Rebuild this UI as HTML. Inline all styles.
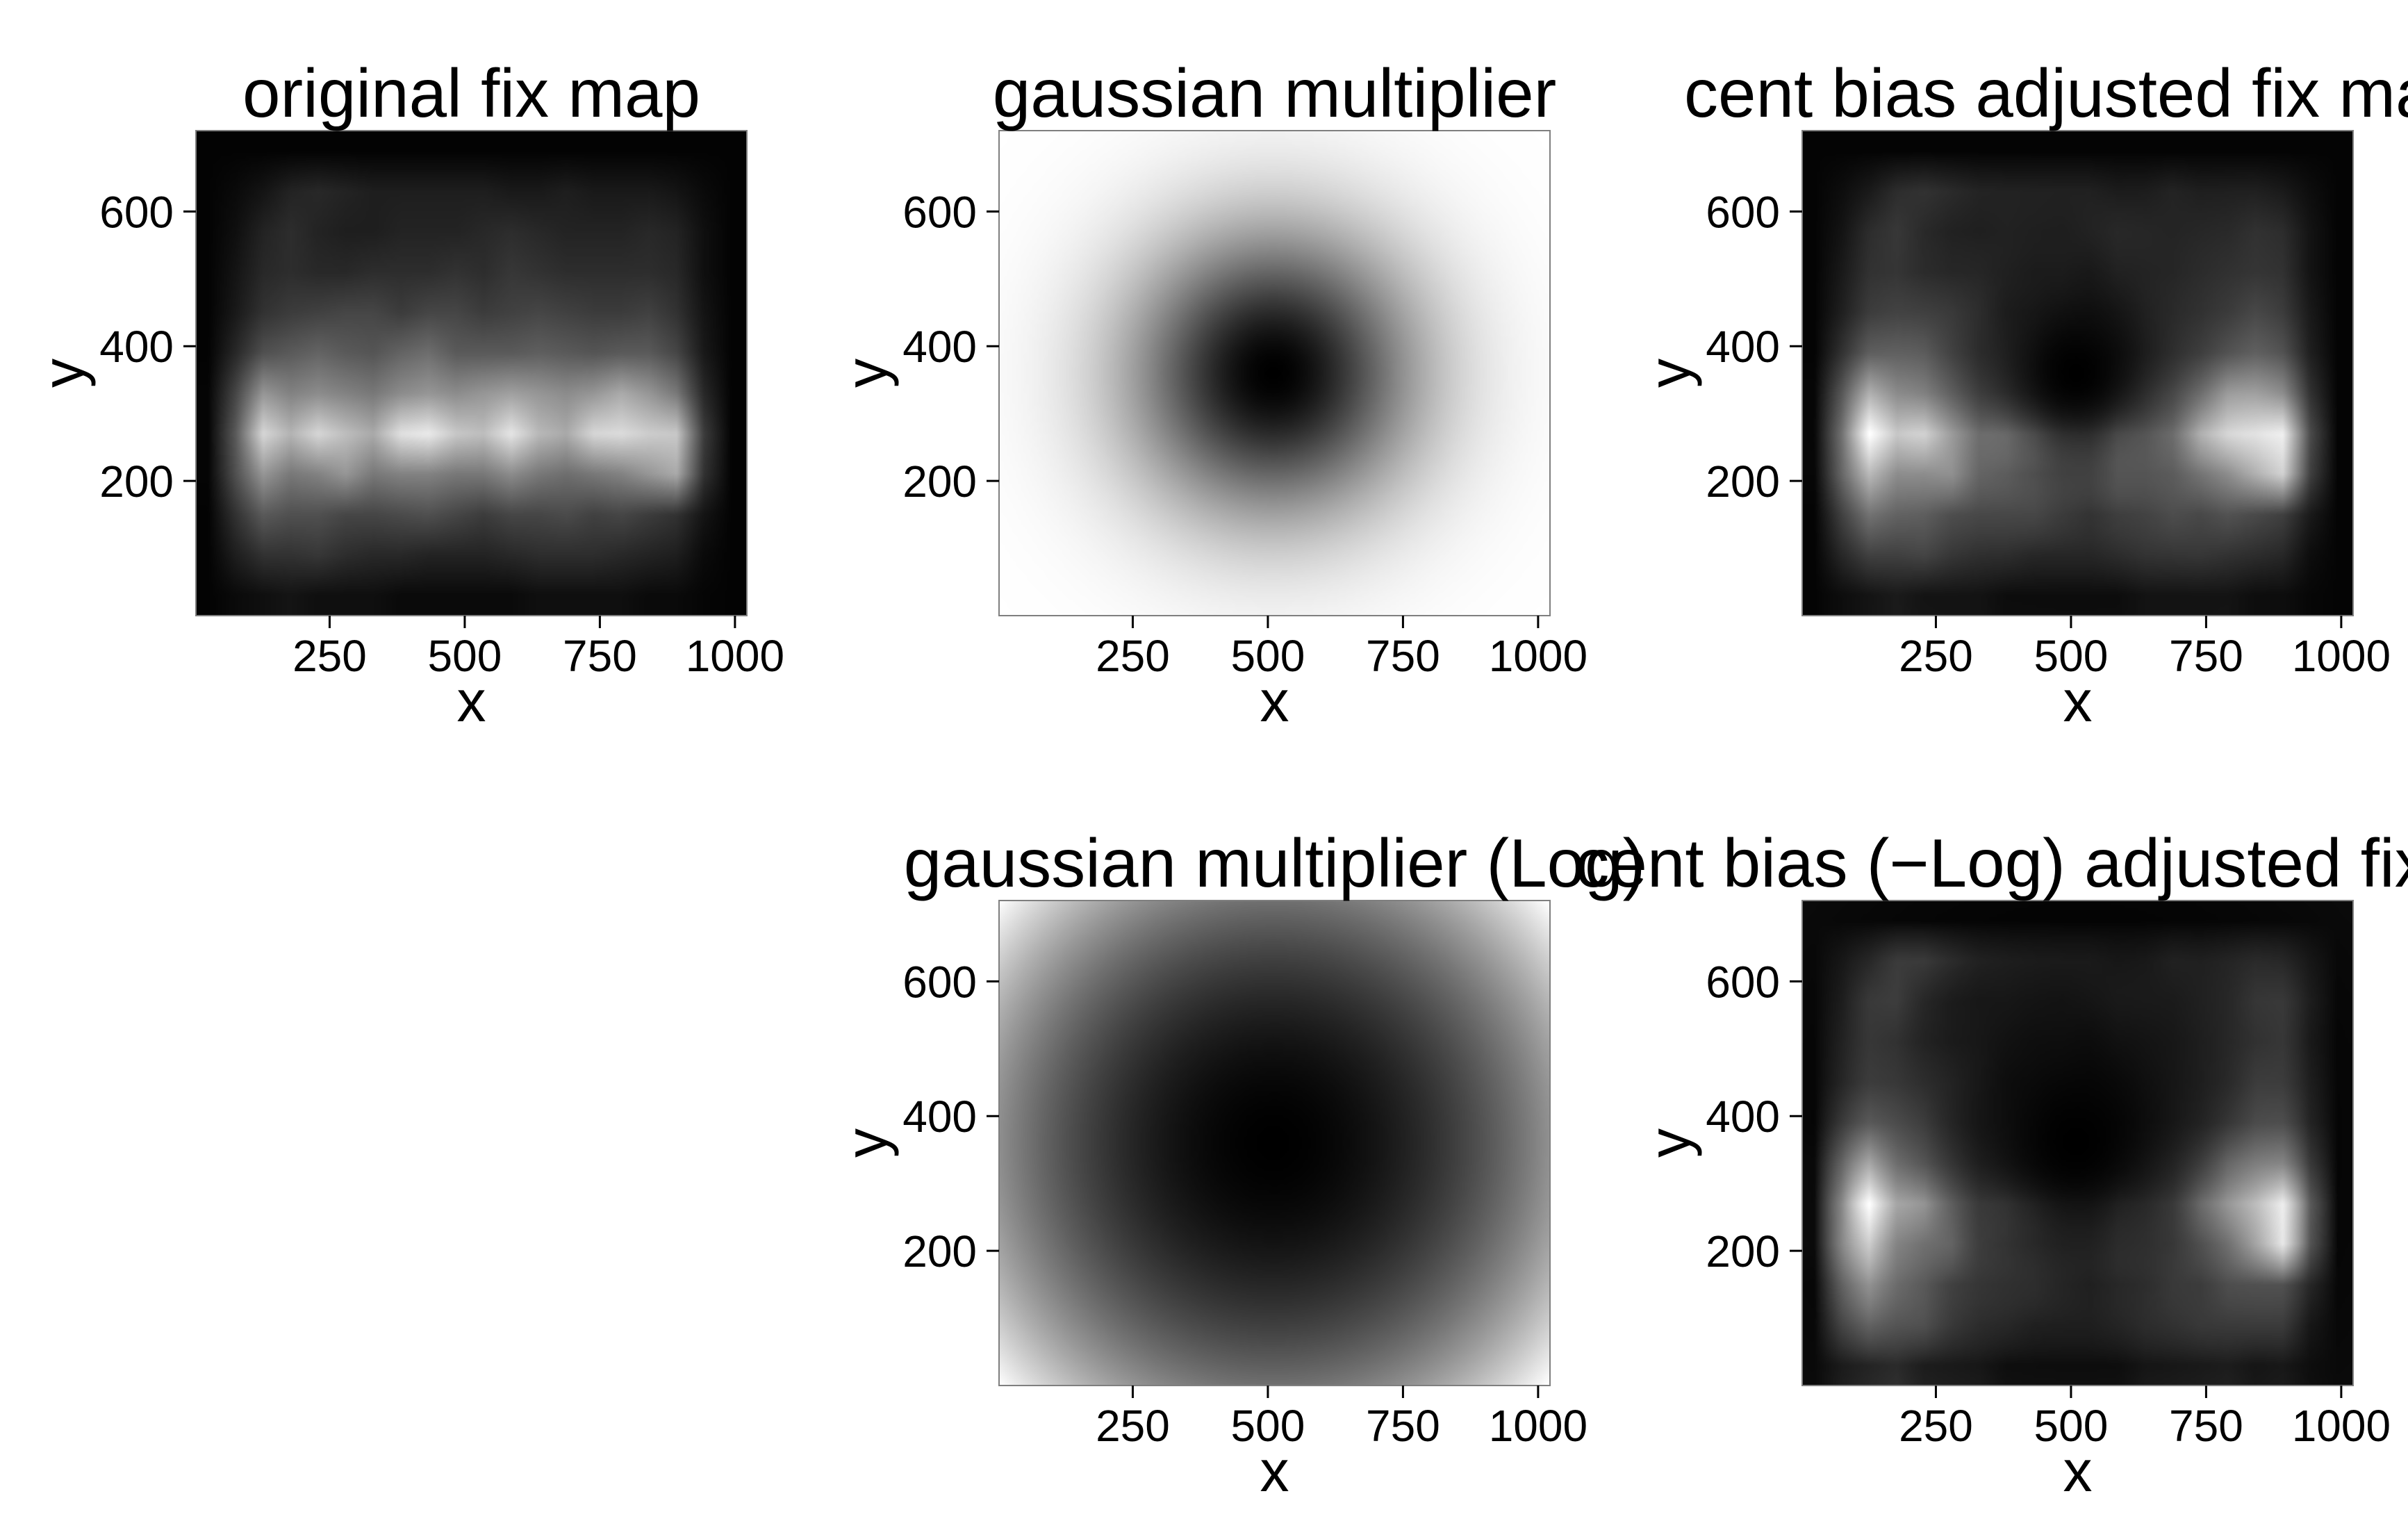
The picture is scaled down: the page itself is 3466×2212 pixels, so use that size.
<!DOCTYPE html>
<html><head><meta charset="utf-8">
<style>
html,body{margin:0;padding:0;background:#fff;}
#wrap{position:relative;width:3466px;height:2212px;overflow:hidden;background:#fff;}
canvas{position:absolute;}
svg{position:absolute;left:0;top:0;}
text{font-family:"Liberation Sans",Arial,sans-serif;fill:#000;}
</style></head>
<body>
<div id="wrap">
<svg id="svg" width="3466" height="2212"></svg>
</div>
<script>
// ---- data ----
const xTicks = [250, 500, 750, 1000];
const yTicks = [200, 400, 600];
const xDomain = [2.6, 1022];
const yDomain = [0, 720];
// fixation map intensity grid (rows top y=690 -> bottom y=30, 20 cols across x)
const fixRowY = [690,630,570,510,450,390,330,270,210,150,90,30];
const fixColX = [25,76,127,178,229,280,331,382,433,484,535,586,637,688,739,790,841,892,943,994];
const fixGrid = [
[3,3,3,3,3,3,3,3,3,3,3,3,3,3,3,3,3,3,3,3],
[3,10,20,35,40,35,30,30,30,30,30,25,25,30,25,25,25,20,10,3],
[3,15,35,45,35,30,30,35,35,35,40,45,40,35,35,35,40,35,15,3],
[3,20,40,45,40,40,45,45,45,50,45,55,50,45,45,45,45,40,15,3],
[3,25,50,60,65,70,70,60,70,70,60,65,70,65,60,60,65,50,20,3],
[3,40,80,90,100,90,85,100,110,90,90,90,95,90,85,90,90,70,25,3],
[5,70,150,130,140,130,120,140,150,140,150,160,150,140,150,170,150,120,40,3],
[5,90,215,180,215,190,170,225,235,200,190,230,185,170,215,220,205,200,60,3],
[5,80,150,120,130,150,120,130,130,120,120,140,120,110,120,130,150,170,50,3],
[3,50,90,80,80,70,70,75,80,70,60,70,70,75,65,70,60,50,20,3],
[3,30,50,50,55,45,40,40,35,35,35,40,45,45,45,40,35,30,10,3],
[3,10,15,20,15,15,15,10,10,10,10,10,15,15,15,15,10,10,5,3]
];
// gaussian centre-bias parameters
const gaussCenter = [510, 360];
const gaussSigma = [185, 148];

const titles = ["original fix map","gaussian multiplier","cent bias adjusted fix map","gaussian multiplier (Log)","cent bias (\u2212Log) adjusted fix map"];
const panelKinds = ["fix","gauss","adj","glog","adjlog"];
const panelCol = [0,1,2,1,2];
const panelRow = [0,0,0,1,1];

// ---- layout ----
const PL=282, PT=188, PW=793, PH=698, DX=1156, DY=1108;
const NS="http://www.w3.org/2000/svg";
const svg=document.getElementById('svg');
const wrap=document.getElementById('wrap');
function el(tag,attrs,parent){const e=document.createElementNS(NS,tag);for(const k in attrs)e.setAttribute(k,attrs[k]);(parent||svg).appendChild(e);return e;}

function sampleFix(x,y){
  let fx=(x-fixColX[0])/(fixColX[1]-fixColX[0]);
  let fy=(fixRowY[0]-y)/(fixRowY[0]-fixRowY[1]);
  fx=Math.max(0,Math.min(fixColX.length-1.0001,fx));
  fy=Math.max(0,Math.min(fixRowY.length-1.0001,fy));
  const i=Math.floor(fx),j=Math.floor(fy),a=fx-i,b=fy-j;
  const g=fixGrid;
  return (g[j][i]*(1-a)+g[j][i+1]*a)*(1-b)+(g[j+1][i]*(1-a)+g[j+1][i+1]*a)*b;
}
function neglog(x,y){const dx=(x-gaussCenter[0])/gaussSigma[0],dy=(y-gaussCenter[1])/gaussSigma[1];return (dx*dx+dy*dy)/2;}
function gauss(x,y){return Math.exp(-neglog(x,y));}

function valueFor(kind,x,y){
  if(kind==="fix")return sampleFix(x,y)/255;
  if(kind==="gauss")return 1-gauss(x,y);
  if(kind==="adj")return sampleFix(x,y)*(1-gauss(x,y));
  if(kind==="glog")return neglog(x,y);
  return sampleFix(x,y)*neglog(x,y);
}

for(let p=0;p<titles.length;p++){
  const ox=PL+panelCol[p]*DX, oy=PT+panelRow[p]*DY;
  const xs=v=>ox+(v-xDomain[0])/(xDomain[1]-xDomain[0])*PW;
  const ys=v=>oy+PH-(v-yDomain[0])/(yDomain[1]-yDomain[0])*PH;
  const g=el('g',{});
  
  
  const cw=200,ch=176;
  const c=document.createElement('canvas');c.width=cw;c.height=ch;
  const full=document.createElement('canvas');full.width=PW;full.height=PH;
  full.style.left=ox+'px';full.style.top=oy+'px';
  
  
  const ctx=c.getContext('2d');const img=ctx.createImageData(cw,ch);
  const vals=[];let mx=0;
  for(let j=0;j<ch;j++)for(let i=0;i<cw;i++){
    const x=xDomain[0]+(i+0.5)/cw*(xDomain[1]-xDomain[0]);
    const y=yDomain[1]-(j+0.5)/ch*(yDomain[1]-yDomain[0]);
    const v=valueFor(panelKinds[p],x,y);vals.push(v);if(v>mx)mx=v;
  }
  for(let k=0;k<vals.length;k++){
    let v=vals[k];
    if(panelKinds[p]!=="fix"&&panelKinds[p]!=="gauss")v=v/mx;
    const c8=Math.max(0,Math.min(255,Math.round(v*255)));
    img.data[4*k]=c8;img.data[4*k+1]=c8;img.data[4*k+2]=c8;img.data[4*k+3]=255;
  }
  ctx.putImageData(img,0,0);
  const fctx=full.getContext('2d');fctx.imageSmoothingEnabled=true;fctx.imageSmoothingQuality='high';
  fctx.drawImage(c,0,0,PW,PH);
  wrap.insertBefore(full,svg);
  const r=el('rect',{x:ox,y:oy,width:PW,height:PH,fill:'none',stroke:'#7f7f7f','stroke-width':2},g);
  
  const t=el('text',{x:ox+PW/2,y:oy-20,'font-size':98,'text-anchor':'middle'},g);t.textContent=titles[p];
  
  xTicks.forEach(v=>{
    const X=xs(v);
    const l=el('line',{x1:X,x2:X,y1:oy+PH,y2:oy+PH+18,stroke:'#000','stroke-width':3},g);
    
    const tx=el('text',{x:X,y:oy+PH+80,'font-size':64,'text-anchor':'middle'},g);tx.textContent=v;
    
  });
  yTicks.forEach(v=>{
    const Y=ys(v);
    const l=el('line',{x1:ox-18,x2:ox,y1:Y,y2:Y,stroke:'#000','stroke-width':3},g);
    
    const tx=el('text',{x:ox-32,y:Y+23,'font-size':64,'text-anchor':'end'},g);tx.textContent=v;
    
  });
  const xt=el('text',{x:ox+PW/2,y:oy+PH+152,'font-size':84,'text-anchor':'middle'},g);xt.textContent='x';
  
  const yx=ox-162, yy=oy+PH/2;
  const yt=el('text',{x:yx,y:yy,'font-size':84,'text-anchor':'middle',transform:'rotate(-90 '+yx+' '+yy+')'},g);yt.textContent='y';
  
}
</script>
</body></html>
